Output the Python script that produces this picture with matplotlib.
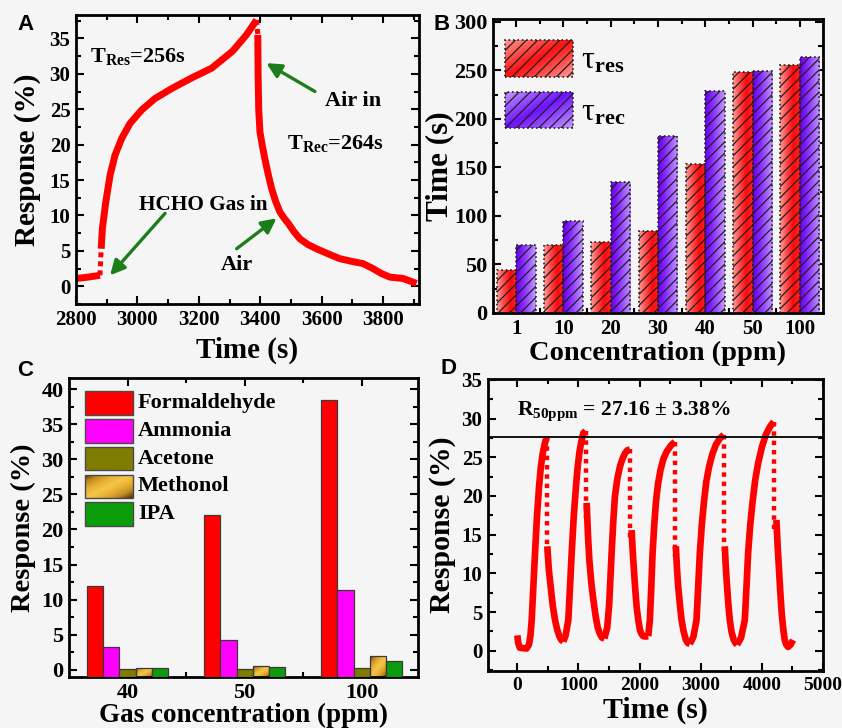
import numpy as np
import matplotlib
matplotlib.use('Agg')
import matplotlib.pyplot as plt
from matplotlib.colors import LinearSegmentedColormap
from matplotlib.patches import Rectangle
from matplotlib.ticker import MultipleLocator, FixedLocator

# ---------------- data ----------------
# Panel A : single response / recovery cycle
a_base_t = [2800, 2840, 2878]
a_base_r = [1.1, 1.3, 1.55]
a_rise_t = [2882, 2886, 2897, 2911, 2927, 2949, 2976, 3014, 3057, 3111, 3176, 3242,
            3310, 3355, 3382, 3388]
a_rise_r = [5.3, 8.2, 11.9, 15.7, 18.5, 20.9, 23.0, 24.9, 26.5, 27.9, 29.4, 30.8,
            33.2, 35.5, 37.2, 37.6]
a_dec_t = [3392, 3393, 3395, 3399, 3407, 3415, 3426, 3437, 3450, 3464, 3478, 3491,
           3510, 3529, 3555, 3583, 3620, 3659, 3700, 3735, 3767, 3795, 3822, 3865,
           3890, 3909]
a_dec_r = [35.5, 30.0, 25.0, 21.8, 19.8, 18.0, 15.8, 13.8, 12.0, 10.5, 9.6, 8.9,
           7.7, 6.7, 5.9, 5.3, 4.6, 3.9, 3.5, 3.2, 2.5, 1.8, 1.3, 1.1, 0.7, 0.4]

# Panel B : response / recovery times
b_conc = ['1', '10', '20', '30', '40', '50', '100']
b_res = [44, 70, 73, 85, 154, 248, 256]
b_rec = [70, 95, 135, 182, 229, 249, 264]

# Panel C : selectivity
c_conc = ['40', '50', '100']
c_gases = ['Formaldehyde', 'Ammonia', 'Acetone', 'Methonol', 'IPA']
c_form = [12.0, 22.0, 38.4]
c_ammo = [3.2, 4.3, 11.4]
c_acet = [0.1, 0.1, 0.25]
c_meth = [0.25, 0.5, 1.9]
c_ipa = [0.25, 0.35, 1.3]

# Panel D : repeatability (6 cycles at 50 ppm)
d_rise_t = [[0, 15, 40, 150, 190, 215, 235, 262, 289, 320, 355, 385, 415, 450, 480],
            [752, 790, 834, 860, 889, 922, 959, 985, 1013, 1045, 1078, 1117],
            [1424, 1470, 1503, 1542, 1570, 1596, 1635, 1678, 1720, 1760, 1800, 1842],
            [2141, 2168, 2190, 2212, 2240, 2266, 2300, 2343, 2390, 2441, 2510, 2577],
            [2822, 2880, 2931, 2958, 2985, 3018, 3051, 3090, 3137, 3190, 3247, 3310, 3377],
            [3595, 3660, 3721, 3748, 3775, 3810, 3846, 3890, 3938, 4000, 4064, 4130, 4194]]
d_rise_r = [[2.0, 1.0, 0.4, 0.3, 0.8, 2.0, 4.0, 8.3, 12.6, 17.2, 21.2, 23.8, 25.5, 26.8, 27.6],
            [1.2, 2.0, 4.0, 8.0, 12.6, 17.3, 21.2, 23.6, 25.5, 27.0, 28.1, 28.4],
            [1.6, 3.0, 6.1, 12.6, 16.8, 19.9, 22.2, 23.8, 24.8, 25.5, 25.9, 26.0],
            [1.9, 4.0, 8.0, 12.6, 16.3, 19.1, 21.5, 23.4, 24.8, 25.7, 26.5, 27.0],
            [0.9, 1.8, 4.0, 8.2, 12.6, 16.3, 19.1, 21.8, 23.8, 25.4, 26.6, 27.4, 27.9],
            [0.8, 1.7, 4.0, 8.2, 12.6, 16.3, 19.1, 22.0, 24.2, 26.3, 27.9, 28.9, 29.6]]
d_dec_t = [[490, 515, 545, 580, 616, 650, 686, 720, 752],
           [1134, 1155, 1178, 1210, 1243, 1280, 1315, 1350, 1386, 1424],
           [1869, 1888, 1907, 1930, 1951, 1978, 2005, 2030, 2059, 2100, 2141],
           [2593, 2610, 2631, 2660, 2686, 2720, 2757, 2790, 2822],
           [3394, 3410, 3431, 3452, 3475, 3505, 3541, 3570, 3595],
           [4238, 4258, 4281, 4303, 4325, 4350, 4374, 4400, 4428, 4470, 4510]]
d_dec_r = [[13.5, 10.5, 8.3, 5.8, 4.0, 2.8, 1.9, 1.4, 1.2],
           [19.1, 15.0, 11.7, 8.8, 6.6, 4.5, 3.0, 2.2, 1.7, 1.6],
           [15.6, 12.8, 10.4, 7.8, 5.7, 4.0, 2.7, 2.2, 1.9, 1.85, 1.9],
           [13.5, 10.8, 8.3, 5.9, 4.0, 2.5, 1.4, 1.0, 0.9],
           [13.5, 10.8, 8.3, 6.0, 4.0, 2.4, 1.4, 1.0, 0.8],
           [16.9, 13.5, 10.4, 7.4, 4.8, 2.8, 1.4, 0.8, 0.5, 0.8, 1.4]]
d_mean = 27.6

# ---------------- style ----------------
plt.rcParams['font.family'] = ['Liberation Serif', 'DejaVu Serif']
plt.rcParams['font.weight'] = 'bold'
plt.rcParams['axes.labelweight'] = 'bold'
plt.rcParams['mathtext.fontset'] = 'custom'
plt.rcParams['mathtext.rm'] = 'Liberation Serif:bold'
plt.rcParams['mathtext.bf'] = 'Liberation Serif:bold'
plt.rcParams['mathtext.it'] = 'Liberation Serif:italic:bold'
plt.rcParams['hatch.linewidth'] = 0.9

BG = '#f5f5f5'
RED = '#ff0000'
GREEN = '#1d7d1d'
W, H = 842, 728

fig = plt.figure(figsize=(W / 100, H / 100), dpi=100, facecolor=BG)


def px_axes(l, t, r, b):
    return fig.add_axes([l / W, 1 - b / H, (r - l) / W, (b - t) / H])


def style(ax, lsize=15):
    ax.set_facecolor(BG)
    for s in ax.spines.values():
        s.set_linewidth(2.0)
    ax.tick_params(which='both', direction='in', top=True, right=True,
                   width=1.5, labelsize=lsize, pad=4)
    ax.tick_params(which='major', length=6)
    ax.tick_params(which='minor', length=3.5)


def grad_fill(ax, patch, colors, diagonal=False, transform=None, z=2.5):
    cmap = LinearSegmentedColormap.from_list('g', colors)
    if diagonal:
        u = np.linspace(0, 1, 40)
        X, Y = np.meshgrid(u, u)
        arr = (X + (1 - Y)) / 2
    else:
        arr = np.linspace(0, 1, 40)[None, :]
    x0, y0 = patch.get_x(), patch.get_y()
    w, h = patch.get_width(), patch.get_height()
    kw = dict(cmap=cmap, extent=(x0, x0 + w, y0, y0 + h), aspect='auto',
              origin='lower', zorder=z, interpolation='bilinear')
    if transform is not None:
        kw['transform'] = transform
    im = ax.imshow(arr, **kw)
    im.set_clip_path(patch)
    return im


# ================= Panel A =================
axA = px_axes(76, 15, 419, 304)
style(axA)
kwc = dict(color=RED, lw=5.0, solid_joinstyle='round', solid_capstyle='butt')
axA.plot(a_base_t, a_base_r, **kwc)
axA.plot(a_rise_t, a_rise_r, **kwc)
axA.plot(a_dec_t, a_dec_r, **kwc)
axA.plot([a_base_t[-1], a_rise_t[0]], [a_base_r[-1], a_rise_r[0]], color=RED,
         lw=3.6, ls=(0, (1, 0.8)), dash_capstyle='butt')
axA.plot([a_rise_t[-1], a_dec_t[0]], [a_rise_r[-1], a_dec_r[0]], color=RED,
         lw=3.6, ls=(0, (1, 0.8)), dash_capstyle='butt')
axA.set_xlim(2800, 3917)
axA.set_ylim(-2.5, 38.3)
axA.xaxis.set_major_locator(MultipleLocator(200))
axA.xaxis.set_minor_locator(MultipleLocator(100))
axA.yaxis.set_major_locator(MultipleLocator(5))
axA.yaxis.set_minor_locator(MultipleLocator(2.5))
axA.set_xlabel('Time (s)', fontsize=21, labelpad=5)
axA.set_ylabel('Response (%)', fontsize=21, labelpad=6)
tfs = 16
axA.text(2845, 31.6, 'T$_{\\mathrm{Res}}$=256s', fontsize=tfs, va='baseline')
axA.text(3610, 25.4, 'Air in', fontsize=tfs, va='baseline')
axA.text(3486, 19.4, 'T$_{\\mathrm{Rec}}$=264s', fontsize=tfs, va='baseline')
axA.text(3005, 10.8, 'HCHO Gas in', fontsize=15.3, va='baseline')
axA.text(3271, 2.35, 'Air', fontsize=tfs, va='baseline')
arw = dict(arrowstyle='-|>', color=GREEN, lw=2.4, mutation_scale=22, shrinkA=0, shrinkB=0)
axA.annotate('', xy=(2911, 1.55), xytext=(3090, 10.3), arrowprops=arw)
axA.annotate('', xy=(3420, 31.5), xytext=(3578, 27.5), arrowprops=arw)
axA.annotate('', xy=(3453, 9.6), xytext=(3323, 5.3), arrowprops=arw)

# ================= Panel B =================
axB = px_axes(493, 19, 823, 313)
style(axB)
xb = np.arange(len(b_conc))
bw = 0.41
red_cols = ['#ff9a94', '#ff4a4a', '#ff0a0a', '#ff2020']
pur_cols = ['#6a00ec', '#8424ff', '#a35cff', '#c499ff']
bars_res = axB.bar(xb - bw / 2, b_res, width=bw, facecolor='none', edgecolor='#202020',
                   hatch='///', linewidth=1.2, linestyle=':', zorder=3)
bars_rec = axB.bar(xb + bw / 2, b_rec, width=bw, facecolor='none', edgecolor='#202020',
                   hatch='///', linewidth=1.2, linestyle=':', zorder=3)
for b in bars_res:
    grad_fill(axB, b, red_cols)
for b in bars_rec:
    grad_fill(axB, b, pur_cols)
axB.xaxis.set_major_locator(FixedLocator(xb))
axB.xaxis.set_minor_locator(FixedLocator(xb[:-1] + 0.5))
axB.set_xticklabels(b_conc)
axB.yaxis.set_major_locator(MultipleLocator(50))
axB.yaxis.set_minor_locator(MultipleLocator(25))
axB.tick_params(axis='y', labelsize=16)
axB.set_xlabel('Concentration (ppm)', fontsize=20.5, labelpad=2)
axB.set_ylabel('Time (s)', fontsize=22.5, labelpad=0)
# legend
leg_B = [(0.929, 0.803, ['#ff9a94', '#ff1010', '#ff9a94'], 'τ$_{\\mathrm{res}}$', 0.832),
         (0.752, 0.629, ['#c499ff', '#7010ff', '#c499ff'], 'τ$_{\\mathrm{rec}}$', 0.655)]
for top, bot, cols, lab, base in leg_B:
    rect = Rectangle((0.036, bot), 0.206, top - bot, transform=axB.transAxes,
                     facecolor='none', edgecolor='#202020', hatch='///', lw=1.2,
                     ls=':', zorder=4)
    axB.add_patch(rect)
    grad_fill(axB, rect, cols, diagonal=True, transform=axB.transAxes, z=3.5)
    axB.text(0.268, base, lab, transform=axB.transAxes, fontsize=23,
             fontweight='normal', va='baseline')
axB.set_xlim(-0.49, 6.49)
axB.set_ylim(0, 303)

# ================= Panel C =================
axC = px_axes(69, 378, 418, 677)
style(axC, lsize=16)
c_ylim = (-1.04, 41.6)
xc = np.arange(len(c_conc))
cw = 0.139
c_vals = [c_form, c_ammo, c_acet, c_meth, c_ipa]
c_cols = ['#ff0000', '#ff00ff', '#807c00', None, '#0a9c0a']
meth_cols = ['#4a2e00', '#c08a22', '#e8b032', '#f3c64a', '#e8b032', '#c08a22', '#4a2e00']
for i, (vals, col) in enumerate(zip(c_vals, c_cols)):
    h = np.array(vals) - c_ylim[0]
    bars = axC.bar(xc + (i - 2) * cw, h, bottom=c_ylim[0], width=cw,
                   facecolor=col if col else 'none', edgecolor='#3a3a3a',
                   linewidth=0.9, zorder=3)
    if col is None:
        for b in bars:
            grad_fill(axC, b, meth_cols, diagonal=True)
axC.xaxis.set_major_locator(FixedLocator(xc))
axC.xaxis.set_minor_locator(FixedLocator(xc[:-1] + 0.5))
axC.set_xticklabels(c_conc)
axC.yaxis.set_major_locator(MultipleLocator(5))
axC.yaxis.set_minor_locator(MultipleLocator(2.5))
axC.set_xlabel('Gas concentration (ppm)', fontsize=19.5, labelpad=0)
axC.set_ylabel('Response (%)', fontsize=20.5, labelpad=4)
for i, name in enumerate(c_gases):
    top = 0.955 - i * 0.0928
    bot = top - 0.078
    rect = Rectangle((0.045, bot), 0.1375, top - bot, transform=axC.transAxes,
                     facecolor=c_cols[i] if c_cols[i] else 'none',
                     edgecolor='#4a4a4a', lw=1.0, zorder=4)
    axC.add_patch(rect)
    if c_cols[i] is None:
        grad_fill(axC, rect, meth_cols, diagonal=True, transform=axC.transAxes, z=3.9)
    axC.text(0.198, (top + bot) / 2, name, transform=axC.transAxes, fontsize=16,
             va='center')
axC.set_xlim(-0.5, 2.48)
axC.set_ylim(*c_ylim)

# ================= Panel D =================
axD = px_axes(488, 379, 823, 671)
style(axD)
kwd = dict(color=RED, lw=4.8, solid_joinstyle='round', solid_capstyle='butt')
for rt, rr, dt, dr in zip(d_rise_t, d_rise_r, d_dec_t, d_dec_r):
    axD.plot(rt, rr, **kwd)
    axD.plot(dt, dr, **kwd)
    axD.plot([rt[-1] + 8, rt[-1] + 8], [rr[-1], dr[0] * 0.9], color=RED, lw=3.2,
             ls=(0, (1, 1.1)), dash_capstyle='butt')
axD.axhline(d_mean, color='black', lw=1.3)
axD.set_xlim(-480, 5000)
axD.set_ylim(-2.6, 35.1)
axD.xaxis.set_major_locator(MultipleLocator(1000))
axD.xaxis.set_minor_locator(MultipleLocator(500))
axD.yaxis.set_major_locator(MultipleLocator(5))
axD.yaxis.set_minor_locator(MultipleLocator(2.5))
axD.tick_params(axis='x', labelsize=14)
axD.set_xlabel('Time (s)', fontsize=21.5, labelpad=2)
axD.set_ylabel('Response (%)', fontsize=21.5, labelpad=4)
axD.text(0, 30.5, 'R$_{\\mathrm{50ppm}}$ = 27.16 ± 3.38%', fontsize=15.5, va='baseline')

# panel letters
for lab, x, y in [('A', 26, 25), ('B', 442, 24), ('C', 25, 371), ('D', 448, 368)]:
    fig.text(x / W, 1 - y / H, lab, fontsize=16, fontweight='bold',
             family=['Liberation Sans', 'DejaVu Sans'], ha='center', va='center')

fig.savefig('out.png', dpi=100, facecolor=BG)
